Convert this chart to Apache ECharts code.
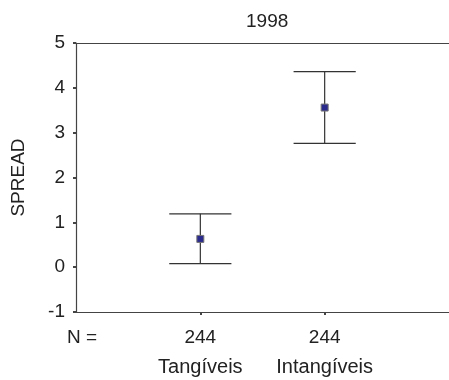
<!DOCTYPE html>
<html>
<head>
<meta charset="utf-8">
<script src="https://cdn.jsdelivr.net/npm/echarts@6/dist/echarts.min.js"></script>
<style>
  html, body { margin: 0; padding: 0; background: #fff; }
  #chart { width: 449px; height: 380px; }
</style>
</head>
<body>
<div id="chart"></div>
<script>
// data
const titleText = '1998';
const yName = 'SPREAD';
const categories = ['Tangíveis', 'Intangíveis'];
const counts = [244, 244];
const means = [0.63, 3.56];
const lower = [0.08, 2.76];
const upper = [1.19, 4.36];
const yTicks = [-1, 0, 1, 2, 3, 4, 5];

const font = 'Liberation Sans, Arial, sans-serif';
const lineColor = '#333';
const axisColor = '#444';

const myChart = echarts.init(document.getElementById('chart'));

const barData = categories.map((c, i) => [i + 1, lower[i], upper[i]]);
const meanData = categories.map((c, i) => [i + 1, means[i]]);

const option = {
    animation: false,
    title: {
        text: titleText,
        left: 241,
        top: 7,
        textStyle: { fontFamily: font, fontSize: 19, fontWeight: 'normal', color: '#222' }
    },
    grid: {
        left: 76,
        right: -2,
        top: 43,
        bottom: 68
    },
    xAxis: [
        {
            type: 'value',
            min: 0,
            max: categories.length + 1,
            interval: 1,
            splitLine: { show: false },
            axisLine: { onZero: false, lineStyle: { color: axisColor, width: 1.2 } },
            axisTick: {
                customValues: categories.map((c, i) => i + 1),
                length: 3,
                lineStyle: { color: axisColor, width: 2 }
            },
            axisLabel: {
                customValues: [0].concat(categories.map((c, i) => i + 1)),
                margin: 7,
                fontFamily: font,
                color: '#222',
                formatter: function (v) {
                    if (v === 0) return '{nl|N =}\n{c|}';
                    const i = v - 1;
                    return '{n|' + counts[i] + '}\n{c|' + categories[i] + '}';
                },
                rich: {
                    nl: { fontFamily: font, fontSize: 19, color: '#222', height: 37, padding: [0, 0, 0, 12] },
                    n: { fontFamily: font, fontSize: 19, color: '#222', height: 37 },
                    c: { fontFamily: font, fontSize: 20, color: '#222', height: 22 }
                }
            }
        },
        {
            // top frame line
            type: 'value',
            position: 'top',
            min: 0,
            max: categories.length + 1,
            splitLine: { show: false },
            axisLine: { show: true, onZero: false, lineStyle: { color: axisColor, width: 1.2 } },
            axisTick: { show: false },
            axisLabel: { show: false }
        }
    ],
    yAxis: {
        type: 'value',
        min: yTicks[0],
        max: yTicks[yTicks.length - 1],
        interval: 1,
        name: yName,
        nameLocation: 'middle',
        nameRotate: 90,
        nameGap: 48,
        nameTextStyle: { fontFamily: font, fontSize: 19, color: '#222' },
        splitLine: { show: false },
        axisLine: { show: true, onZero: false, lineStyle: { color: axisColor, width: 1.2 } },
        axisTick: { show: true, length: 3, lineStyle: { color: axisColor, width: 2 } },
        axisLabel: { fontFamily: font, fontSize: 19, color: '#222', margin: 11 }
    },
    series: [
        {
            type: 'custom',
            data: barData,
            encode: { x: 0, y: [1, 2] },
            renderItem: function (params, api) {
                const x = api.value(0);
                const lo = api.coord([x, api.value(1)]);
                const hi = api.coord([x, api.value(2)]);
                const half = api.size([0.25, 0])[0];
                const style = { stroke: lineColor, lineWidth: 1.2 };
                return {
                    type: 'group',
                    children: [
                        { type: 'line', shape: { x1: lo[0], y1: lo[1], x2: hi[0], y2: hi[1] }, style: style },
                        { type: 'line', shape: { x1: hi[0] - half, y1: hi[1], x2: hi[0] + half, y2: hi[1] }, style: style },
                        { type: 'line', shape: { x1: lo[0] - half, y1: lo[1], x2: lo[0] + half, y2: lo[1] }, style: style }
                    ]
                };
            },
            z: 2
        },
        {
            type: 'scatter',
            data: meanData,
            symbol: 'rect',
            symbolSize: 7,
            itemStyle: { color: '#2a2a8c', borderColor: '#777', borderWidth: 1, opacity: 1 },
            z: 3
        }
    ]
};

myChart.setOption(option);
</script>
</body>
</html>
